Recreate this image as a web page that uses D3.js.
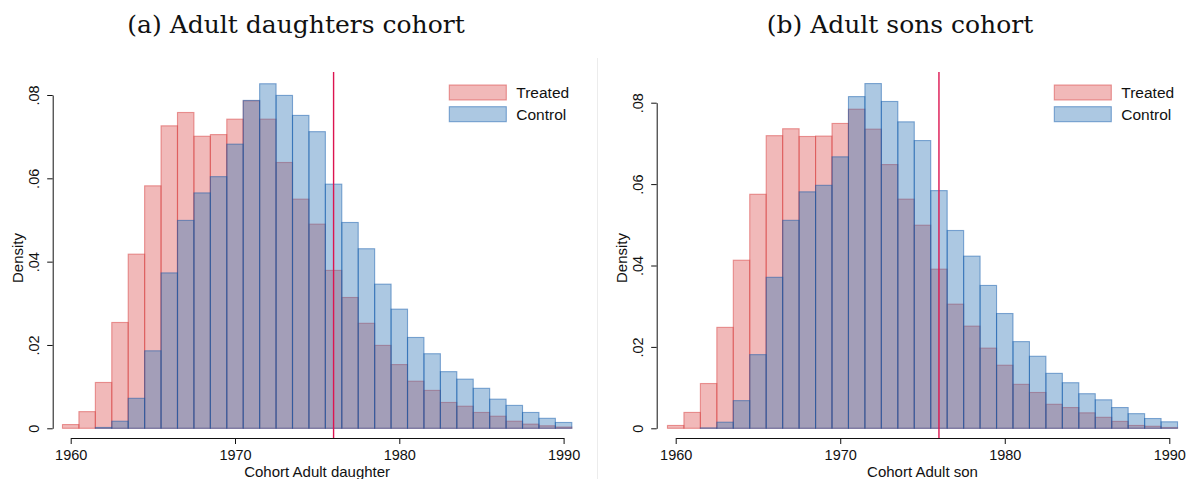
<!DOCTYPE html>
<html>
<head>
<meta charset="utf-8">
<script src="https://cdn.jsdelivr.net/npm/d3@7"></script>
<style>
  body { margin: 0; background: #fff; }
  svg { display: block; }
  .tick text, .lbl { font-family: "Liberation Sans", Arial, sans-serif; fill: #111; }
  .title { font-family: "DejaVu Serif", "Liberation Serif", serif; fill: #111; }
</style>
</head>
<body>
<svg id="chart" width="1195" height="479"></svg>
<script>
// birth years (one bar per year)
const years = [1960, 1961, 1962, 1963, 1964, 1965, 1966, 1967, 1968, 1969,
               1970, 1971, 1972, 1973, 1974, 1975, 1976, 1977, 1978, 1979,
               1980, 1981, 1982, 1983, 1984, 1985, 1986, 1987, 1988, 1989, 1990];

// densities
const daughtersTreated = [0.0009, 0.0040, 0.0110, 0.0254, 0.0418, 0.0582, 0.0726, 0.0758, 0.0701, 0.0705,
                          0.0742, 0.0786, 0.0742, 0.0638, 0.0550, 0.0490, 0.0379, 0.0314, 0.0252, 0.0199,
                          0.0153, 0.0113, 0.0091, 0.0062, 0.0053, 0.0038, 0.0029, 0.0017, 0.0010, 0.0006, 0.0003];
const daughtersControl = [0, 0, 0.0002, 0.0017, 0.0072, 0.0186, 0.0373, 0.0499, 0.0565, 0.0604,
                          0.0682, 0.0787, 0.0827, 0.0799, 0.0751, 0.0712, 0.0586, 0.0494, 0.0431, 0.0346,
                          0.0286, 0.0218, 0.0179, 0.0136, 0.0118, 0.0096, 0.0070, 0.0055, 0.0038, 0.0024, 0.0014];
const sonsTreated = [0.0007, 0.0039, 0.0110, 0.0248, 0.0413, 0.0575, 0.0719, 0.0736, 0.0717, 0.0718,
                     0.0749, 0.0784, 0.0735, 0.0648, 0.0563, 0.0499, 0.0391, 0.0305, 0.0251, 0.0197,
                     0.0155, 0.0108, 0.0088, 0.0059, 0.0051, 0.0038, 0.0027, 0.0017, 0.0007, 0.0005, 0.0002];
const sonsControl = [0, 0, 0.0001, 0.0015, 0.0068, 0.0181, 0.0371, 0.0511, 0.0581, 0.0597,
                     0.0667, 0.0815, 0.0847, 0.0803, 0.0753, 0.0707, 0.0584, 0.0486, 0.0423, 0.0351,
                     0.0282, 0.0213, 0.0177, 0.0135, 0.0112, 0.0085, 0.0070, 0.0051, 0.0036, 0.0024, 0.0016];

const xTicks = [1960, 1970, 1980, 1990];
const yTicks = [0, 0.02, 0.04, 0.06, 0.08];
const cutoffYear = 1976;
const seriesNames = ["Treated", "Control"];

const svg = d3.select("#chart");

const treatedFill = "rgba(225,100,100,0.45)";
const treatedStroke = "rgba(215,60,60,0.5)";
const controlFill = "rgba(47,118,182,0.4)";
const controlStroke = "rgba(10,85,170,0.48)";

// faint divider between the two graphs
svg.append("line")
  .attr("x1", 597.5).attr("x2", 597.5)
  .attr("y1", 58).attr("y2", 479)
  .attr("stroke", "#ececec").attr("stroke-width", 1);

function drawPanel(opts) {
  const g = svg.append("g");

  const x = d3.scaleLinear().domain([1960, 1990]).range(opts.xRange);
  const y = d3.scaleLinear().domain([0, 0.08]).range(opts.yRange);

  // histogram bars: treated first, control on top
  const series = [
    { values: opts.treated, fill: treatedFill, stroke: treatedStroke },
    { values: opts.control, fill: controlFill, stroke: controlStroke }
  ];
  series.forEach(s => {
    g.append("g").selectAll("rect")
      .data(years.map((yr, i) => ({ yr, v: s.values[i] })).filter(d => d.v > 0))
      .enter().append("rect")
      .attr("x", d => x(d.yr - 0.5))
      .attr("y", d => y(d.v))
      .attr("width", d => x(d.yr + 0.5) - x(d.yr - 0.5))
      .attr("height", d => y(0) - y(d.v))
      .attr("fill", s.fill)
      .attr("stroke", s.stroke)
      .attr("stroke-width", 1.1);
  });

  // cutoff line
  g.append("line")
    .attr("x1", x(cutoffYear)).attr("x2", x(cutoffYear))
    .attr("y1", 72).attr("y2", opts.xAxisY)
    .attr("stroke", "#dc1450").attr("stroke-width", 1.4);

  // x axis
  const xa = g.append("g")
    .attr("transform", `translate(0,${opts.xAxisY})`)
    .call(d3.axisBottom(x).tickValues(xTicks).tickFormat(d3.format("d")).tickSize(6).tickSizeOuter(0));
  xa.selectAll("text").attr("y", 22).attr("dy", 0).style("font-size", "14.5px");

  // y axis
  const ya = g.append("g")
    .attr("transform", `translate(${opts.yAxisX},0)`)
    .call(d3.axisLeft(y).tickValues(yTicks)
      .tickFormat(d => d === 0 ? "0" : d3.format(".2f")(d).replace(/^0/, ""))
      .tickSize(5.5).tickSizeOuter(0));
  ya.selectAll("text")
    .attr("transform", "rotate(-90)")
    .attr("x", 0).attr("y", -13.4).attr("dy", 0)
    .attr("text-anchor", "middle")
    .style("font-size", "14.5px");

  svg.selectAll(".domain, .tick line").attr("stroke", "#111").attr("stroke-width", 1);

  // axis titles
  g.append("text").attr("class", "lbl")
    .attr("x", (opts.xRange[0] + opts.xRange[1]) / 2).attr("y", 477)
    .attr("text-anchor", "middle").style("font-size", "15px")
    .text(opts.xTitle);
  g.append("text").attr("class", "lbl")
    .attr("transform", `translate(${opts.yAxisX - 29.4},258) rotate(-90)`)
    .attr("text-anchor", "middle").style("font-size", "15px")
    .text("Density");

  // panel title
  g.append("text").attr("class", "title")
    .attr("x", opts.titleX).attr("y", 33)
    .attr("text-anchor", "middle").style("font-size", "25px")
    .text(opts.title);

  // legend
  const leg = g.append("g").attr("transform", `translate(${opts.legendX},85)`);
  [[treatedFill, treatedStroke], [controlFill, controlStroke]].forEach((c, i) => {
    leg.append("rect")
      .attr("x", 0).attr("y", i * 21.7)
      .attr("width", 57).attr("height", 15)
      .attr("fill", c[0]).attr("stroke", c[1]).attr("stroke-width", 1.1);
    leg.append("text").attr("class", "lbl")
      .attr("x", 67).attr("y", i * 21.7 + 13)
      .style("font-size", "15.5px")
      .text(seriesNames[i]);
  });
}

drawPanel({
  treated: daughtersTreated, control: daughtersControl,
  xRange: [70.7, 563.6], yRange: [428.3, 95],
  xAxisY: 438, yAxisX: 52.7,
  xTitle: "Cohort Adult daughter", title: "(a) Adult daughters cohort",
  titleX: 296, legendX: 449.3
});

drawPanel({
  treated: sonsTreated, control: sonsControl,
  xRange: [675.7, 1169.3], yRange: [428.3, 102.7],
  xAxisY: 438, yAxisX: 656.7,
  xTitle: "Cohort Adult son", title: "(b) Adult sons cohort",
  titleX: 900, legendX: 1054.3
});
</script>
</body>
</html>
